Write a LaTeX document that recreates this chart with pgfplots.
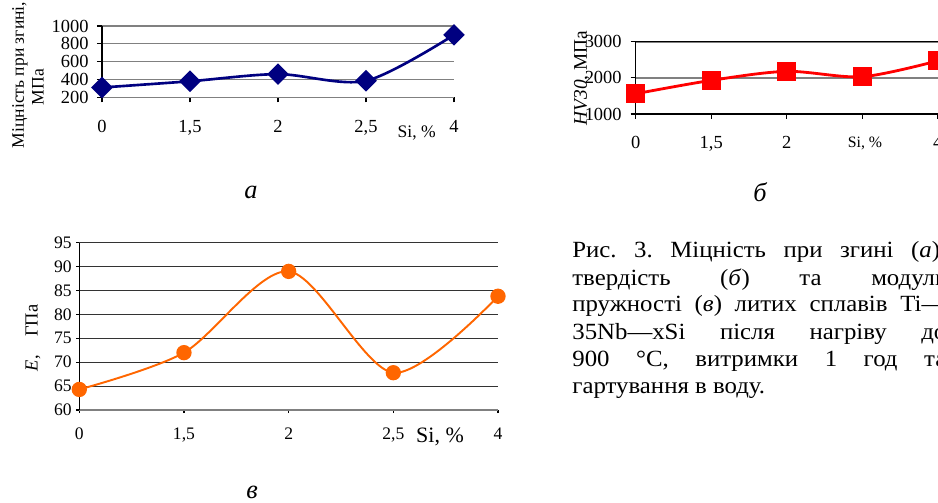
\documentclass[border=0pt]{standalone}
\usepackage{fontspec}
\setmainfont{Liberation Serif}
\usepackage{graphicx}
\usepackage{pgfplots}
\pgfplotsset{compat=1.18}

\definecolor{navy}{HTML}{000080}
\definecolor{xlred}{HTML}{FF0000}
\definecolor{xlorange}{HTML}{FF6600}

\pgfplotsset{
  mini/.style={
    scale only axis, anchor=south west, clip=false,
    xmin=0, xmax=4, xtick={0,1,2,3,4},
    axis x line*=bottom, axis y line*=left,
    ymajorgrids, tick align=outside,
    major tick length=0.1cm,
    tick style={black, line width=0.6pt},
    y axis line style={black, line width=0.8pt},
    /pgf/number format/assume math mode=true,
    /pgf/number format/1000 sep={},
    yticklabel style={anchor=east, inner sep=0pt},
    xticklabel style={anchor=center, inner sep=0pt, text height=1.5ex, text depth=0.2ex},
  },
}

\pgfplotstableread{
x y
0 310
1 380
2 460
3 385
4 900
}\strength
\pgfplotstableread{
x y
0 1560
1 1930
2 2180
3 2030
4 2470
}\hardness
\pgfplotstableread{
x y
0 64.3
1 72.0
2 89.0
3 67.8
4 83.8
}\modulus

\newcommand\capline[1]{\scalebox{1.07}[1]{\makebox[6.99cm][s]{#1}}}

\begin{document}
\frenchspacing
\begin{tikzpicture}
\useasboundingbox (0,0) rectangle (18.76,10.04);
\clip (0,0) rectangle (18.76,10.04);

% (a) bending strength
\begin{axis}[mini,
  at={(2.04cm,8.094cm)}, width=7.04cm, height=1.426cm,
  ymin=200, ymax=1000, ytick={200,400,...,1000},
  xticklabels={0,{1,5},2,{2,5},4},
  grid style={gray, line width=0.6pt},
  x axis line style={gray, line width=0.6pt},
  tick label style={font=\fontsize{10.5}{12}\selectfont},
  xticklabel style={yshift=-0.50cm},
  yticklabel style={xshift=-0.16cm},
]
\addplot[navy, line width=1.5pt, smooth, mark=square*,
  mark size=3.6pt, mark options={rotate=45, solid}] table {\strength};
\end{axis}

% (b) hardness
\begin{axis}[mini,
  at={(12.714cm,7.76cm)}, width=6.04cm, height=1.446cm,
  ymin=1000, ymax=3000, ytick={1000,2000,3000},
  xticklabels={0,{1,5},2,{},4},
  grid style={gray, line width=1pt},
  x axis line style={black, line width=0.8pt},
  tick label style={font=\fontsize{10.5}{12}\selectfont},
  xticklabel style={yshift=-0.48cm},
  yticklabel style={xshift=-0.174cm},
]
\draw[black, line width=0.9pt] (rel axis cs:0,1) -- (rel axis cs:1,1);
\addplot[xlred, line width=1.6pt, smooth, mark=square*,
  mark size=4.6pt] table {\hardness};
\end{axis}

% (c) elastic modulus
\begin{axis}[mini,
  at={(1.586cm,1.84cm)}, width=8.374cm, height=3.346cm,
  ymin=60, ymax=95, ytick={60,65,...,95},
  xticklabels={0,{1,5},2,{2,5},4},
  major tick length=0.06cm,
  grid style={black!80, line width=0.6pt},
  x axis line style={gray, line width=1.1pt},
  tick label style={font=\fontsize{10}{12}\selectfont},
  xticklabel style={yshift=-0.43cm},
  yticklabel style={xshift=-0.086cm},
]
\addplot[xlorange, line width=1.1pt, smooth, mark=*,
  mark size=3.8pt] table {\modulus};
\end{axis}

% axis titles
\node[rotate=90, font=\fontsize{10}{12}\selectfont] at (0.40,8.54) {Міцність при згині,};
\node[rotate=90, font=\fontsize{10}{12}\selectfont] at (0.76,8.30) {МПа};
\node[rotate=90, font=\fontsize{11}{13}\selectfont] at (11.64,8.48) {\textit{HV30}, МПа};
\node[rotate=90, font=\fontsize{10.5}{12}\selectfont] at (0.66,3.28) {\textit{E},\quad ГПа};
\node[font=\fontsize{10}{12}\selectfont] at (8.334,7.373) {Si, \%};
\node[font=\fontsize{9}{11}\selectfont] at (17.30,7.18) {Si, \%};
\node[font=\fontsize{12.5}{14}\selectfont] at (8.80,1.294) {Si, \%};

% panel letters
\node[font=\fontsize{15}{18}\selectfont\itshape] at (5.02,6.20) {а};
\node[font=\fontsize{15}{18}\selectfont\itshape] at (15.20,6.20) {б};
\node[font=\fontsize{15}{18}\selectfont\itshape] at (5.04,0.20) {в};

% caption
\begin{scope}[every node/.style={anchor=base west, inner sep=0pt, font=\fontsize{13.2}{15.6}\selectfont}]
\node at (11.44,4.88) {\capline{Рис. 3. Міцність при згині (\textit{а}),}};
\node at (11.44,4.34) {\capline{твердість (\textit{б}) та модуль}};
\node at (11.44,3.80) {\capline{пружності (\textit{в}) литих сплавів Ti—}};
\node at (11.44,3.26) {\capline{35Nb—xSi після нагріву до}};
\node at (11.44,2.72) {\capline{900 °C, витримки 1 год та}};
\node at (11.44,2.18) {\scalebox{1.07}[1]{гартування в воду.}};
\end{scope}
\end{tikzpicture}
\end{document}
